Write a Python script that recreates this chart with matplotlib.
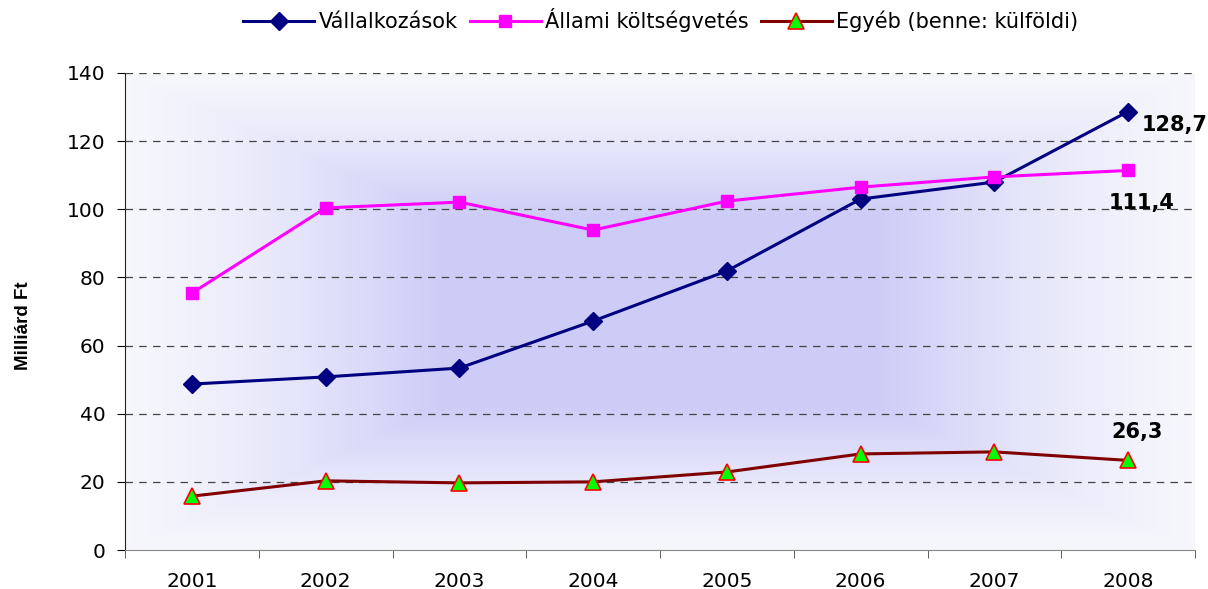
import numpy as np
from matplotlib import pyplot as plt

years = ['2001', '2002', '2003', '2004', '2005', '2006', '2007', '2008']
vallalkozasok = [48.7, 50.8, 53.4, 67.2, 81.9, 103.0, 108.0, 128.7]
allami = [75.4, 100.4, 102.1, 93.9, 102.4, 106.5, 109.5, 111.4]
egyeb = [15.8, 20.3, 19.7, 20.0, 22.9, 28.2, 28.8, 26.3]

plt.rcParams['font.family'] = ['DejaVu Sans']

fig = plt.figure(figsize=(12.08, 5.89), dpi=100)
ax = fig.add_axes([125 / 1208, 1 - 550 / 589, 1070 / 1208, 477 / 589])

x = np.arange(len(years))
ax.set_xlim(-0.5, len(years) - 0.5)
ax.set_ylim(0, 140)

# rectangular "from centre" gradient like the office chart fill
gx, gy = np.meshgrid(np.linspace(-1, 1, 400), np.linspace(-1, 1, 240))
d = np.maximum(np.abs(gx), np.abs(gy))
t = np.clip(1 - d, 0, 1)
c0 = np.array([0.965, 0.965, 0.99])
c1 = np.array([0.80, 0.80, 0.97])
img = c0 + (c1 - c0) * (t[..., None] / 0.6).clip(0, 1) ** 1.4
ax.imshow(img, extent=(-0.5, len(years) - 0.5, 0, 140), aspect='auto',
          origin='upper', zorder=0)

for yv in range(20, 141, 20):
    ax.axhline(yv, color='#444444', ls=(0, (6, 5)), lw=0.9, zorder=1)

ax.plot(x, vallalkozasok, color='#000080', lw=2.2, marker='D', ms=9,
        label='Vállalkozások', zorder=3)
ax.plot(x, allami, color='#ff00ff', lw=2.2, marker='s', ms=9,
        label='Állami költségvetés', zorder=3)
ax.plot(x, egyeb, color='#800000', lw=2.2, marker='^', ms=11,
        markerfacecolor='#00ff00', markeredgecolor='#ff0000', mew=1.2,
        label='Egyéb (benne: külföldi)', zorder=3)

ax.text(x[-1] + 0.1, vallalkozasok[-1] - 4, '128,7', fontsize=15,
        fontweight='bold', ha='left', va='center')
ax.text(x[-1] + 0.1, allami[-1] - 9.5, '111,4', fontsize=15,
        fontweight='bold', ha='center', va='center')
ax.text(x[-1] + 0.07, egyeb[-1] + 8.3, '26,3', fontsize=15,
        fontweight='bold', ha='center', va='center')

ax.set_xticks(x)
ax.set_xticklabels(years, fontsize=14.5)
ax.set_xticks(np.arange(-0.5, len(years)), minor=True)
ax.tick_params(axis='x', which='major', length=0, pad=16)
ax.tick_params(axis='x', which='minor', length=6, direction='out', color='#444444')
ax.set_yticks(range(0, 141, 20))
ax.tick_params(axis='y', labelsize=14.5, length=6, direction='out', pad=8)

ax.spines['top'].set_visible(False)
ax.spines['right'].set_visible(False)
ax.spines['bottom'].set_color('#888888')
ax.spines['left'].set_color('#222222')

ax.set_ylabel('Milliárd Ft', fontsize=13.5, fontweight='bold',
              family='Liberation Sans')
ax.yaxis.set_label_coords(-0.087, 0.47)

fig.legend(loc='upper center', bbox_to_anchor=(0.547, 1.018), ncol=3,
           frameon=False, fontsize=15, handlelength=3.4, columnspacing=0.6,
           handletextpad=0.2)

fig.savefig('out.png', dpi=100)
